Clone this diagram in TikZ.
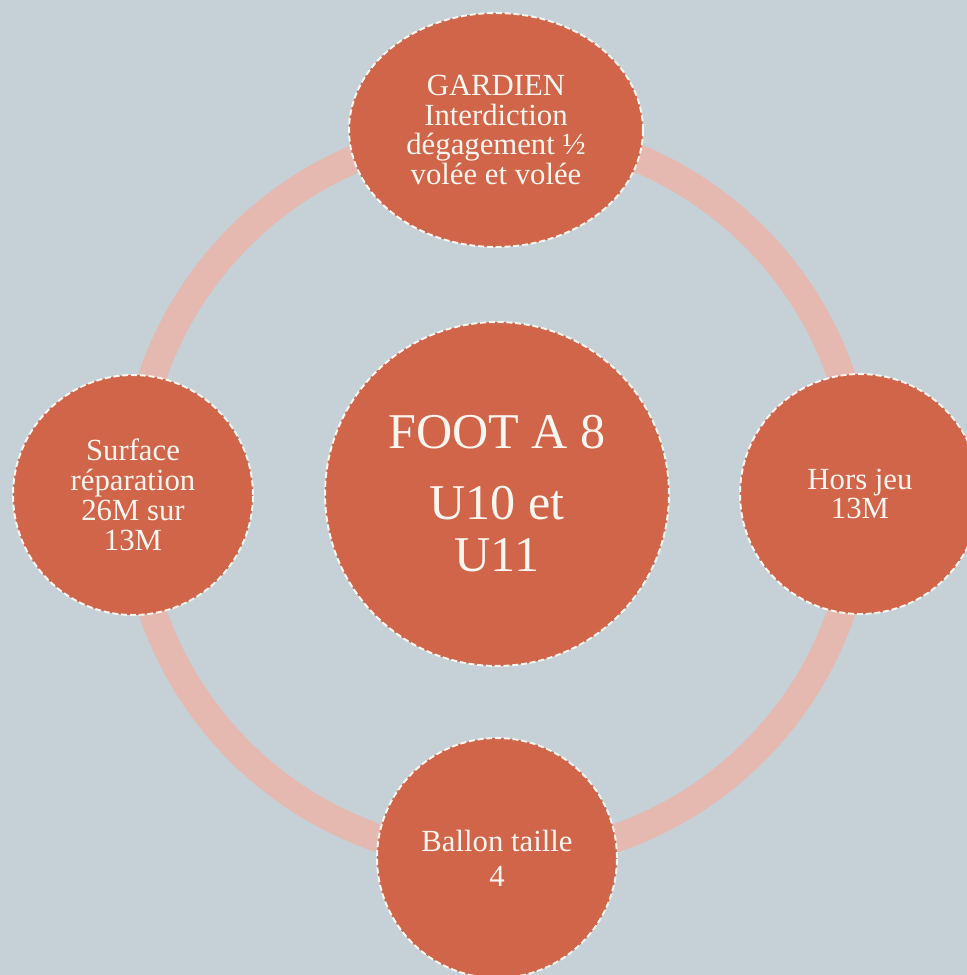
\documentclass[tikz,border=0pt]{standalone}
\usepackage{fontspec}
\setmainfont{Liberation Serif}
\usetikzlibrary{shapes.geometric, positioning}

\definecolor{bgblue}{HTML}{C5D1D7}
\definecolor{ringpink}{HTML}{E5B8B0}
\definecolor{brick}{HTML}{D0654A}
\definecolor{cream}{HTML}{FDF6F0}

\begin{document}
\begin{tikzpicture}[
    x=0.02cm, y=0.02cm,
    bubble/.style={circle, fill=brick, draw=cream, line width=1.1pt,
                   dash pattern=on 3.4pt off 1.6pt, minimum size=4.8cm, inner sep=0pt,
                   text=cream, align=center, font=\fontsize{17.5}{17}\selectfont},
    topbubble/.style={bubble, ellipse, minimum width=5.88cm, minimum height=4.68cm},
    hub/.style={bubble, minimum size=6.88cm, font=\fontsize{28.5}{30}\selectfont},
    ring/.style={draw=ringpink, line width=0.56cm}
]

% background
\fill[bgblue] (-497,-481) rectangle (470,494);
\clip (-497,-481) rectangle (470,494);

% ring behind the bubbles
\coordinate (mid) at (0,0);
\draw[ring] (mid) circle[radius=7.28cm];

% centre
\node[hub] (foot) at (mid) {FOOT A 8\\[10pt]U10 et\\U11};

% satellites
\node[topbubble] (gardien) at (-1,364) {GARDIEN\\Interdiction\\dégagement ½\\volée et volée};
\node[bubble] (surface) at (-364,-1) {Surface\\réparation\\26M sur\\13M};
\node[bubble] (horsjeu) at (363,0) {Hors jeu\\13M};
\node[bubble] (ballon) at (0,-364) {Ballon taille\\[3pt]4};

\end{tikzpicture}
\end{document}
